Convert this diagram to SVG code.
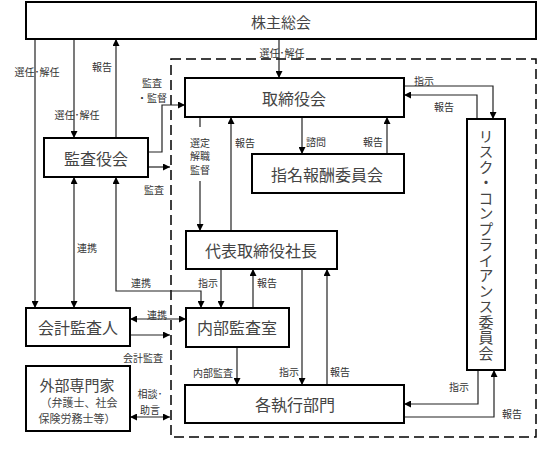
<svg xmlns="http://www.w3.org/2000/svg" width="552" height="450" viewBox="0 0 552 450">
<defs>
<style>
.box{fill:#fff;stroke:#000;stroke-width:2}
.bt{font-family:"Noto Sans CJK JP","Noto Sans CJK SC",sans-serif;font-size:16px;fill:#444;text-anchor:middle;dominant-baseline:central}
.lb{font-family:"Noto Sans CJK JP","Noto Sans CJK SC",sans-serif;font-size:10px;fill:#333;dominant-baseline:central}
.c{text-anchor:middle}
.e{text-anchor:end}
.ln{fill:none;stroke:#222;stroke-width:1.2}
.ae{marker-end:url(#ah)}
.ab{marker-start:url(#ah);marker-end:url(#ah)}
</style>
<marker id="ah" viewBox="0 0 10 10" refX="10" refY="5" markerWidth="7" markerHeight="7" orient="auto-start-reverse" markerUnits="userSpaceOnUse"><path d="M0,0 L10,5 L0,10 z" fill="#000"/></marker>
</defs>
<rect x="0" y="0" width="552" height="450" fill="#fff"/>
<rect x="171" y="59" width="365" height="378" fill="none" stroke="#000" stroke-width="1.5" stroke-dasharray="10,5"/>

<g id="connectors">
<path class="ln ae" d="M279,39 V78"/>
<path class="ln ae" d="M35,39 V308"/>
<path class="ln ae" d="M74,39 V138"/>
<path class="ln ae" d="M116,138 V39"/>
<path class="ln ae" d="M148,152 H162 V105 H185"/>
<path class="ln ae" d="M148,167 H170"/>
<path class="ln ab" d="M74,177 V308"/>
<path class="ln ab" d="M116,177 V291 H201 V308"/>
<path class="ln ab" d="M130,319 H186"/>
<path class="ln ae" d="M130,335 H170"/>
<path class="ln ab" d="M130,417 H170"/>
<path class="ln" d="M200,117 V127"/>
<path class="ln ae" d="M200,181 V231"/>
<path class="ln ae" d="M231,231 V117"/>
<path class="ln ae" d="M302,117 V154"/>
<path class="ln ae" d="M387,154 V117"/>
<path class="ln ae" d="M404,86 H493 V119"/>
<path class="ln ae" d="M477,119 V95 H404"/>
<path class="ln ae" d="M221,269 V308"/>
<path class="ln ae" d="M253,308 V269"/>
<path class="ln ae" d="M237,347 V385"/>
<path class="ln ae" d="M302,269 V385"/>
<path class="ln ae" d="M327,385 V269"/>
<path class="ln ae" d="M478,370 V404 H404"/>
<path class="ln ae" d="M404,417 H494 V370"/>
</g>

<g id="labels">
<text class="lb c" x="282" y="52">選任･解任</text>
<text class="lb c" x="37" y="71">選任･解任</text>
<text class="lb c" x="102" y="66">報告</text>
<text class="lb c" x="77" y="114">選任･解任</text>
<text class="lb c" x="152" y="82">監査</text>
<text class="lb c" x="152" y="97">・監督</text>
<text class="lb c" x="154" y="189">監査</text>
<text class="lb c" x="87" y="247">連携</text>
<text class="lb c" x="141" y="282">連携</text>
<text class="lb c" x="157" y="314">連携</text>
<text class="lb c" x="143" y="357">会計監査</text>
<text class="lb c" x="150" y="393">相談･</text>
<text class="lb c" x="150" y="409">助言</text>
<text class="lb c" x="200" y="142">選定</text>
<text class="lb c" x="200" y="155.5">解職</text>
<text class="lb c" x="200" y="169">監督</text>
<text class="lb" x="235" y="142">報告</text>
<text class="lb" x="306" y="141">諮問</text>
<text class="lb e" x="383" y="141">報告</text>
<text class="lb" x="414" y="80">指示</text>
<text class="lb" x="434" y="106">報告</text>
<text class="lb e" x="218" y="282">指示</text>
<text class="lb" x="257" y="282">報告</text>
<text class="lb" x="193" y="372">内部監査</text>
<text class="lb" x="279" y="371">指示</text>
<text class="lb" x="330" y="371">報告</text>
<text class="lb" x="449" y="386">指示</text>
<text class="lb" x="502" y="413">報告</text>
</g>

<g id="shareholders"><rect class="box" x="26" y="2" width="510" height="37"/><text class="bt" x="281" y="21" style="font-size:15px">株主総会</text></g>
<g id="board"><rect class="box" x="185" y="78" width="219" height="39"/><text class="bt" x="294" y="98">取締役会</text></g>
<g id="auditors"><rect class="box" x="44" y="138" width="104" height="39"/><text class="bt" x="96" y="158">監査役会</text></g>
<g id="nomination"><rect class="box" x="252" y="154" width="152" height="39"/><text class="bt" x="327" y="174">指名報酬委員会</text></g>
<g id="president"><rect class="box" x="186" y="231" width="151" height="38"/><text class="bt" x="261" y="250">代表取締役社長</text></g>
<g id="accounting"><rect class="box" x="26" y="308" width="104" height="38"/><text class="bt" x="78" y="327">会計監査人</text></g>
<g id="internal"><rect class="box" x="186" y="308" width="103" height="39"/><text class="bt" x="237" y="327">内部監査室</text></g>
<g id="experts"><rect class="box" x="26" y="366" width="104" height="65"/><text class="bt" x="77" y="384" style="font-size:15px">外部専門家</text><text class="bt" x="79" y="402" style="font-size:11px">（弁護士、社会</text><text class="bt" x="77" y="418" style="font-size:11px">保険労務士等）</text></g>
<g id="divisions"><rect class="box" x="185" y="385" width="219" height="38"/><text class="bt" x="295" y="404">各執行部門</text></g>
<g id="risk"><rect class="box" x="467" y="119" width="38" height="251"/><text x="486" y="245" style="font-family:'Noto Sans CJK JP','Noto Sans CJK SC',sans-serif;font-size:15px;fill:#444;writing-mode:vertical-rl;text-anchor:middle;letter-spacing:0.5px">リスク・コンプライアンス委員会</text></g>
</svg>
